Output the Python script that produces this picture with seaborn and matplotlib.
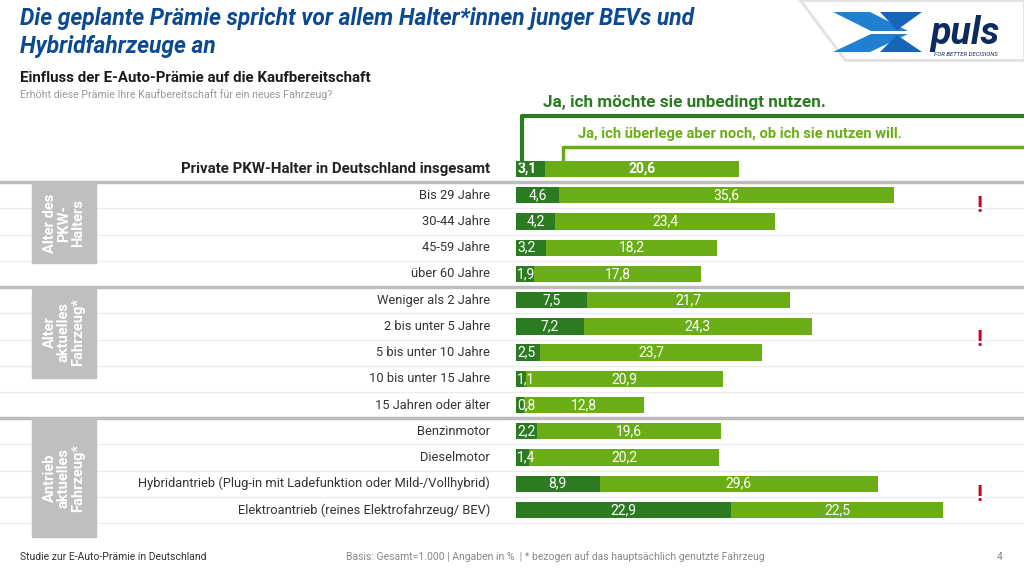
import numpy as np
import pandas as pd
import matplotlib.pyplot as plt
import seaborn as sns
from matplotlib import font_manager
from matplotlib.patches import Rectangle, Polygon
from matplotlib.lines import Line2D

# Data
categories = [
    "Private PKW-Halter in Deutschland insgesamt",
    "Bis 29 Jahre", "30-44 Jahre", "45-59 Jahre", "über 60 Jahre",
    "Weniger als 2 Jahre", "2 bis unter 5 Jahre", "5 bis unter 10 Jahre",
    "10 bis unter 15 Jahre", "15 Jahren oder älter",
    "Benzinmotor", "Dieselmotor",
    "Hybridantrieb (Plug-in mit Ladefunktion oder Mild-/Vollhybrid)",
    "Elektroantrieb (reines Elektrofahrzeug/ BEV)",
]
ja_unbedingt = [3.1, 4.6, 4.2, 3.2, 1.9, 7.5, 7.2, 2.5, 1.1, 0.8, 2.2, 1.4, 8.9, 22.9]
ja_ueberlege = [20.6, 35.6, 23.4, 18.2, 17.8, 21.7, 24.3, 23.7, 20.9, 12.8, 19.6, 20.2, 29.6, 22.5]
group_labels = ["Alter des\nPKW-\nHalters", "Alter\naktuelles\nFahrzeug*", "Antrieb\naktuelles\nFahrzeug*"]
legend_labels = ["Ja, ich möchte sie unbedingt nutzen.", "Ja, ich überlege aber noch, ob ich sie nutzen will."]

df = pd.DataFrame({"kategorie": categories, "unbedingt": ja_unbedingt, "ueberlege": ja_ueberlege})
df["gesamt"] = df["unbedingt"] + df["ueberlege"]

DARK = "#2c7a21"
LIGHT = "#6aad16"
BLUE = "#0b4a92"

sns.set_theme(style="white")
names = {f.name for f in font_manager.fontManager.ttflist}
NARROW = "Liberation Sans Narrow" if "Liberation Sans Narrow" in names else "Roboto"
plt.rcParams["font.family"] = ["Roboto", "DejaVu Sans"]

W, H = 1024, 575
def fx(x):
    return x / W
def fy(y):
    return 1 - y / H

fig = plt.figure(figsize=(W / 100, H / 100), dpi=100)

# bar axes: 9.4 px per percent, row spacing ~26.2 px
px_per_unit = 9.4
ax = fig.add_axes([fx(516), fy(523.1), 508 / W, 367.2 / H])
sns.barplot(data=df, x="gesamt", y="kategorie", color=LIGHT, saturation=1,
            width=0.62, linewidth=0, errorbar=None, ax=ax, zorder=3)
sns.barplot(data=df, x="unbedingt", y="kategorie", color=DARK, saturation=1,
            width=0.62, linewidth=0, errorbar=None, ax=ax, zorder=3)
ax.set_xlim(0, 508 / px_per_unit)
ax.set_ylim(len(categories) - 0.5, -0.5)
ax.axis("off")

def fmt(v):
    return f"{v:.1f}".replace(".", ",")

label_x = -26 / px_per_unit
for i, row in df.iterrows():
    bold = "bold" if i == 0 else "normal"
    # small dark segments: label starts at the bar's left edge
    if row.unbedingt < 3.5:
        ax.text(0.12, i, fmt(row.unbedingt), ha="left", va="center",
                color="white", fontsize=10, family=NARROW, weight=bold, zorder=5)
    else:
        ax.text(row.unbedingt / 2, i, fmt(row.unbedingt), ha="center", va="center",
                color="white", fontsize=10, family=NARROW, weight=bold, zorder=5)
    ax.text(row.unbedingt + row.ueberlege / 2, i, fmt(row.ueberlege), ha="center", va="center",
            color="white", fontsize=10, family=NARROW, weight=bold, zorder=5)
    if i == 0:
        ax.text(label_x, i, row.kategorie, ha="right", va="center", fontsize=10.8,
                weight="bold", color="#222222", clip_on=False)
    else:
        ax.text(label_x, i, row.kategorie, ha="right", va="center", fontsize=9.3,
                family=NARROW, color="#333333", clip_on=False)

# row separators
ytr = ax.get_yaxis_transform()
x0 = -516 / 508
for y in np.arange(1.5, len(categories), 1.0):
    if y in (4.5, 9.5):
        continue
    ax.plot([x0, 1], [y, y], transform=ytr, color="#ececec", lw=1, clip_on=False, zorder=0)
for y in (0.5, 4.5, 9.5):
    ax.plot([x0, 1], [y, y], transform=ytr, color="#bdbdbd", lw=2.5, clip_on=False, zorder=1)

# group boxes
for (top, bot), lab in zip([(183, 263), (287, 378), (418, 537)], group_labels):
    fig.patches.append(Rectangle((fx(32), fy(bot)), 64 / W, (bot - top) / H,
                                 transform=fig.transFigure, color="#bfbfbf", zorder=4))
    fig.text(fx(64), fy((top + bot) / 2), lab, rotation=90, ha="center", va="center",
             color="white", fontsize=10.5, weight="bold", linespacing=1.0, zorder=5)

# legend brackets
fig.lines.append(Line2D([fx(522), fx(522), fx(1024)], [fy(161), fy(116), fy(116)],
                        transform=fig.transFigure, color=DARK, lw=3))
fig.lines.append(Line2D([fx(563), fx(563), fx(1024)], [fy(161), fy(147), fy(147)],
                        transform=fig.transFigure, color=LIGHT, lw=2.5))
fig.text(fx(543), fy(103), legend_labels[0], ha="left", va="center", color=DARK,
         fontsize=12.3, weight="bold")
fig.text(fx(578), fy(134), legend_labels[1], ha="left", va="center", color=LIGHT,
         fontsize=10.6, weight="bold")

# red markers
for y in (206, 340, 495):
    fig.text(fx(980), fy(y), "!", ha="center", va="center", color="#d0021b",
             fontsize=16, weight="bold",
             bbox=dict(facecolor="white", edgecolor="none", pad=1))

# titles
fig.text(fx(20), fy(18), "Die geplante Prämie spricht vor allem Halter*innen junger BEVs und",
         ha="left", va="center", color=BLUE, fontsize=16.4, weight="bold", style="italic")
fig.text(fx(20), fy(47), "Hybridfahrzeuge an", ha="left", va="center", color=BLUE,
         fontsize=16.4, weight="bold", style="italic")
fig.text(fx(20), fy(78), "Einfluss der E-Auto-Prämie auf die Kaufbereitschaft", ha="left",
         va="center", color="#1a1a1a", fontsize=10.8, weight="bold")
fig.text(fx(20), fy(95), "Erhöht diese Prämie Ihre Kaufbereitschaft für ein neues Fahrzeug?",
         ha="left", va="center", color="#999999", fontsize=7.7)

# footer
fig.text(fx(20), fy(557), "Studie zur E-Auto-Prämie in Deutschland", ha="left", va="center",
         color="#333333", fontsize=7.5, family=NARROW)
fig.text(fx(555), fy(557), "Basis: Gesamt=1.000 | Angaben in %  | * bezogen auf das hauptsächlich genutzte Fahrzeug",
         ha="center", va="center", color="#888888", fontsize=7.5, family=NARROW)
fig.text(fx(1000), fy(557), "4", ha="center", va="center", color="#888888", fontsize=7.5, family=NARROW)

# logo
def poly(pts, **kw):
    fig.patches.append(Polygon([(fx(x), fy(y)) for x, y in pts], closed=True,
                               transform=fig.transFigure, **kw))
poly([(800, 0), (1024, 0), (1024, 60), (845, 60)], facecolor="white", edgecolor="#e2e2e2", lw=2)
poly([(833, 12), (870, 12), (908, 31), (871, 31)], facecolor="#1f7fd0", edgecolor="none")
poly([(871, 34), (908, 34), (870, 52), (833, 52)], facecolor="#1f7fd0", edgecolor="none")
poly([(880, 12), (922, 12), (897, 30)], facecolor="#1565b8", edgecolor="none")
poly([(897, 35), (922, 52), (880, 52)], facecolor="#1565b8", edgecolor="none")
fig.text(fx(930), fy(33), "puls", ha="left", va="center", color="#0d2a5c", fontsize=27,
         weight="bold", style="italic")
fig.text(fx(934), fy(54), "FOR BETTER DECISIONS", ha="left", va="center", color="#0d2a5c",
         fontsize=4.3, style="italic")

fig.savefig("out.png", dpi=100)
